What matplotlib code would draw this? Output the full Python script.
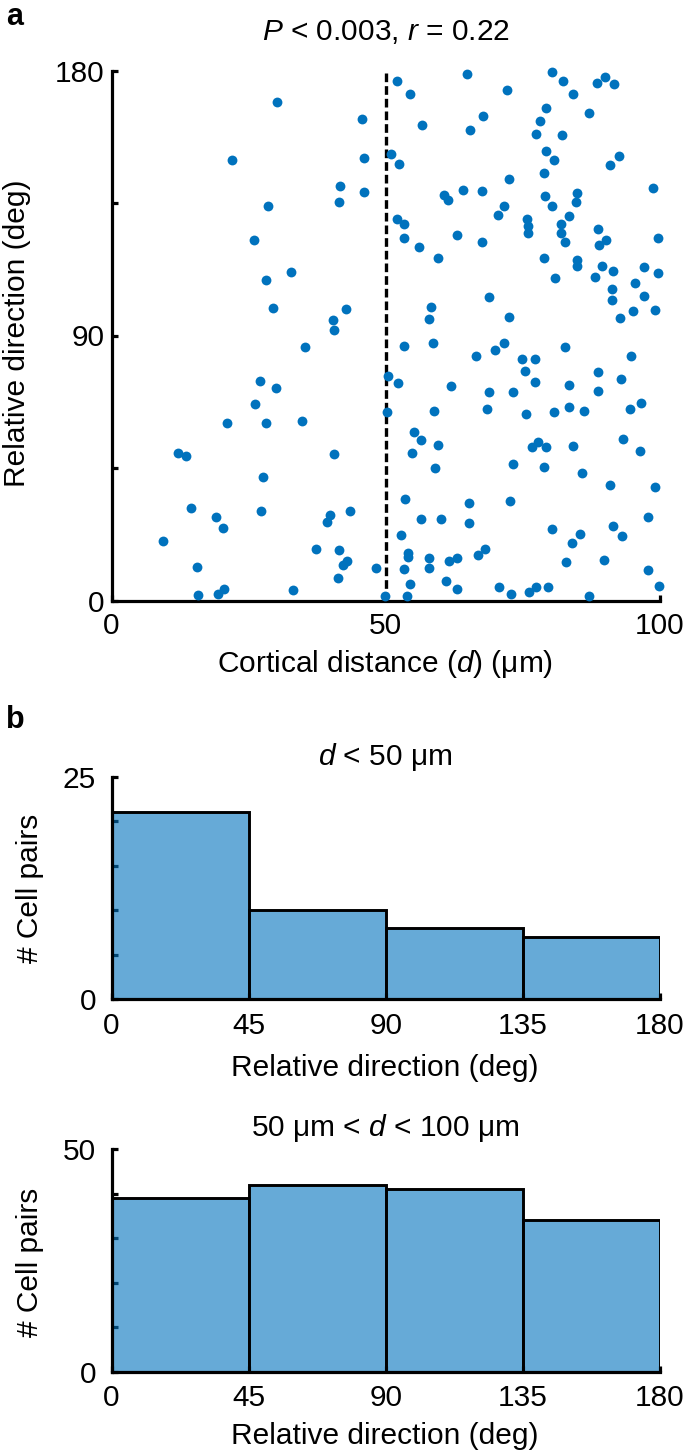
import matplotlib
matplotlib.use("Agg")
import matplotlib.pyplot as plt
import numpy as np

plt.rcParams['font.family'] = ['Liberation Sans', 'DejaVu Sans']
plt.rcParams['mathtext.fontset'] = 'custom'
plt.rcParams['mathtext.rm'] = 'Liberation Sans'
plt.rcParams['mathtext.it'] = 'Liberation Sans:italic'

# ---------------- data ----------------
distance_um = [
    30.2, 22.0, 28.6, 26.0, 32.7, 28.2, 29.4,
    27.1, 30.0, 26.2, 21.1, 28.2, 12.1, 13.6, 27.7, 14.5, 27.3, 19.1, 20.3, 9.4, 15.5, 15.8, 19.5, 20.6, 33.0,
    52.0, 54.4, 64.8, 45.7, 56.7, 65.3, 46.1, 51.0, 52.5, 41.7, 41.5, 46.1, 60.6, 61.3, 64.0, 52.0, 53.3, 53.3,
    56.0, 63.0, 59.5, 42.8, 40.3, 40.5, 58.2, 57.8, 58.6,
    35.3, 53.3, 50.4, 52.2, 61.9, 50.2, 58.8, 34.7, 55.1, 56.4, 59.5, 54.7, 40.5, 59.0, 53.5, 65.1, 43.4, 39.9,
    39.3, 56.4, 60.1, 65.1, 52.7, 37.2, 41.5, 42.9, 42.2, 54.1, 54.1, 57.8, 57.8, 61.5, 63.0, 48.3, 53.3, 41.3,
    54.5, 60.9, 63.0, 49.8, 53.9,
    80.3, 82.4, 84.2, 88.5, 90.0, 91.6, 72.1, 79.3, 87.1, 78.2, 67.7, 77.4, 82.1, 79.2, 80.7, 92.5, 90.8, 78.9,
    72.4, 67.5, 98.8, 79.0, 80.3, 84.9, 84.6, 71.6, 70.4, 83.4, 75.8, 75.9, 75.9, 81.9, 81.9, 82.6, 88.7, 90.2,
    88.8, 67.5, 99.6, 78.9, 84.9, 84.9, 89.4, 91.4, 88.1, 80.9, 97.1, 99.6, 95.4, 91.2, 91.2, 97.1, 68.8, 72.4,
    92.7, 95.1, 99.0,
    66.5, 70.0, 71.6, 82.7, 94.7, 74.9, 77.2, 75.3, 88.7, 92.8, 77.2, 83.4, 68.8, 73.2, 88.7, 68.5, 75.6, 80.7,
    83.4, 86.2, 94.5, 96.5, 93.2, 96.4, 76.7, 77.8, 79.3, 84.2, 73.2, 78.9, 85.8, 90.9, 99.0, 72.6, 97.8, 80.3,
    85.4, 84.0, 91.4, 93.0, 68.1, 66.9, 82.9, 89.7, 97.8, 70.6, 72.8, 76.1, 77.4, 79.6, 87.1, 99.8,
]
relative_direction = [
    169.2, 149.6, 134.0, 122.3, 111.6, 109.0, 99.4,
    74.5, 72.1, 66.7, 60.2, 60.2, 50.2, 49.1, 41.8, 31.4, 30.3, 28.4, 24.5, 20.3, 11.4, 1.9, 2.2, 3.9, 3.6,
    176.5, 171.9, 178.7, 163.5, 161.5, 159.9, 150.4, 151.6, 148.2, 140.8, 135.4, 138.9, 137.7, 136.0, 139.3,
    129.7, 127.8, 123.1, 120.1, 124.0, 116.2, 99.0, 95.3, 91.8, 99.8, 95.6, 87.5,
    86.0, 86.3, 76.3, 73.8, 72.9, 64.1, 64.5, 61.1, 57.2, 54.5, 52.9, 50.2, 49.9, 45.0, 34.5, 33.0, 30.3, 28.9,
    26.7, 27.6, 27.6, 26.2, 22.2, 17.6, 17.3, 13.5, 12.1, 16.2, 14.9, 14.5, 11.1, 13.3, 14.5, 11.1, 10.7, 7.7,
    5.6, 6.5, 3.9, 1.5, 1.5,
    179.6, 176.5, 171.9, 175.7, 177.7, 175.4, 173.4, 167.3, 165.4, 163.0, 164.6, 158.5, 158.0, 152.8, 149.6,
    151.1, 148.0, 145.3, 143.2, 139.2, 140.1, 137.4, 133.9, 138.3, 135.5, 133.9, 130.8, 130.5, 129.7, 127.1,
    124.7, 127.9, 124.7, 121.9, 126.2, 122.5, 120.9, 121.7, 123.1, 116.2, 115.7, 113.6, 113.6, 112.0, 110.0,
    109.6, 113.2, 111.3, 107.9, 105.9, 102.1, 103.5, 103.2, 96.3, 96.1, 98.2, 98.7,
    82.9, 85.1, 87.5, 86.0, 82.9, 82.0, 82.0, 77.9, 77.5, 75.2, 74.1, 73.3, 70.9, 70.9, 71.3, 64.9, 63.2, 64.1,
    65.6, 64.5, 65.1, 67.2, 54.9, 50.7, 52.0, 53.7, 52.1, 52.6, 46.5, 45.3, 43.3, 39.1, 38.5, 33.7, 28.4, 24.2,
    22.7, 19.6, 25.3, 21.9, 17.6, 15.4, 13.1, 13.9, 10.4, 4.7, 2.3, 3.0, 4.7, 4.7, 1.5, 4.9,
]
threshold_um = 50
bin_edges = [0, 45, 90, 135, 180]
counts_near = [21, 10, 8, 7]       # d < 50 um
counts_far = [39, 42, 41, 34]      # 50 um < d < 100 um
title_a = r"$P$ < 0.003, $r$ = 0.22"
title_b1 = r"$d$ < 50 μm"
title_b2 = r"50 μm < $d$ < 100 μm"

# ---------------- style ----------------
W, H = 685, 1455
BLUE = '#0072BD'
BAR = (0.0, 0.447, 0.741, 0.6)
FS = 21.5
LW = 2.3

def fx(px):
    return px / W

def fy(py):
    return 1 - py / H

fig = plt.figure(figsize=(W / 100, H / 100), dpi=100)

def style(ax, ypad=5, xpad=8):
    for s in ('top', 'right'):
        ax.spines[s].set_visible(False)
    for s in ('left', 'bottom'):
        ax.spines[s].set_linewidth(LW)
        ax.spines[s].set_color('black')
    ax.tick_params(which='both', direction='in', length=4, width=LW, labelsize=FS, color='black')
    ax.tick_params(axis='y', which='both', pad=ypad)
    ax.tick_params(axis='x', which='both', pad=xpad)

L, R = 111.5, 660
# ---------- panel a ----------
ax1 = fig.add_axes([fx(L), fy(600.5), fx(R) - fx(L), (600.5 - 70.5) / H])
style(ax1, ypad=5, xpad=8)
ax1.scatter(distance_um, relative_direction, s=50, color=BLUE, linewidths=0, clip_on=False, zorder=3)
ax1.plot([threshold_um, threshold_um], [0, 180], color='black', lw=2.4, ls=(0, (2.6, 1.2)), zorder=2)
ax1.set_xlim(0, 100)
ax1.set_ylim(0, 180)
ax1.set_xticks([0, 50, 100])
ax1.set_yticks([0, 90, 180])
ax1.set_yticks([45, 135], minor=True)

fig.text(fx(386), fy(32), title_a, fontsize=FS, ha='center', va='center')
fig.text(fx(385), fy(664), r"Cortical distance ($d$) (μm)", fontsize=FS, ha='center', va='center')
fig.text(fx(17), fy(333), "Relative direction (deg)", fontsize=FS, ha='center', va='center', rotation=90)
fig.text(fx(6), fy(17), "a", fontsize=22, fontweight='bold', ha='left', va='center')

# ---------- panel b ----------
def hist_panel(top, bottom, counts, ymax, minor, title, title_y, xlab_y, ylab_y):
    ax = fig.add_axes([fx(L), fy(bottom), fx(R) - fx(L), (bottom - top) / H])
    style(ax, ypad=11, xpad=9)
    ax.set_axisbelow(True)
    ax.bar(bin_edges[:-1], counts, width=np.diff(bin_edges), align='edge',
           facecolor=BAR, edgecolor='black', linewidth=2.1, zorder=2)
    ax.set_xlim(bin_edges[0], bin_edges[-1])
    ax.set_ylim(0, ymax)
    ax.set_xticks(bin_edges)
    ax.set_yticks([0, ymax])
    ax.set_yticks(minor, minor=True)
    fig.text(fx(385), fy(title_y), title, fontsize=FS, ha='center', va='center')
    fig.text(fx(385), fy(xlab_y), "Relative direction (deg)", fontsize=FS, ha='center', va='center')
    fig.text(fx(30), fy(ylab_y), "# Cell pairs", fontsize=FS, ha='center', va='center', rotation=90)
    return ax

ax2 = hist_panel(776.7, 999.3, counts_near, 25, [5, 10, 15, 20], title_b1, 757, 1068, 888)
ax3 = hist_panel(1149, 1371.7, counts_far, 50, [10, 20, 30, 40], title_b2, 1128, 1436, 1262)
fig.text(fx(6), fy(720), "b", fontsize=22, fontweight='bold', ha='left', va='center')

fig.savefig("out.png", dpi=100)
